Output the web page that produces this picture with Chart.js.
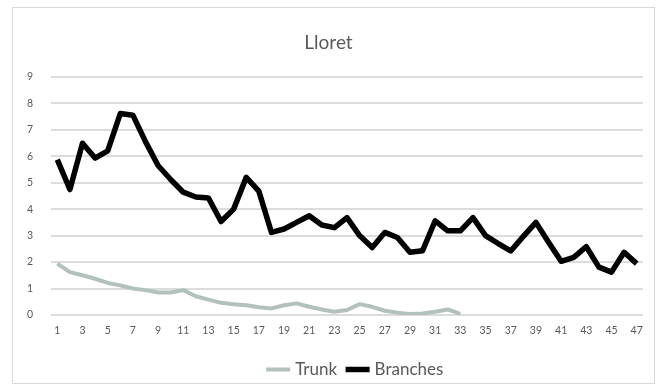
<!DOCTYPE html>
<html>
<head>
<meta charset="utf-8">
<script src="https://cdn.jsdelivr.net/npm/chart.js@4.4.0/dist/chart.umd.min.js"></script>
<style>
    body { margin: 0; background: #ffffff; }
    #frame {
        position: absolute; left: 12px; top: 7px; width: 643px; height: 377px;
        border: 1px solid #d9d9d9; box-sizing: border-box;
    }
    #wrap { position: absolute; left: 0; top: 0; width: 663px; height: 389px; }
</style>
</head>
<body>
<div id="frame"></div>
<div id="wrap"><canvas id="myLineChart" width="663" height="389"></canvas></div>
<script>
const days = ['1', '2', '3', '4', '5', '6', '7', '8', '9', '10', '11', '12', '13', '14', '15', '16',
    '17', '18', '19', '20', '21', '22', '23', '24', '25', '26', '27', '28', '29', '30', '31', '32',
    '33', '34', '35', '36', '37', '38', '39', '40', '41', '42', '43', '44', '45', '46', '47'];

// Trunk only goes up to day 33
const trunk = [1.94, 1.62, 1.5, 1.37, 1.21, 1.12, 1.0, 0.94, 0.85, 0.85, 0.94, 0.71, 0.58, 0.46,
    0.41, 0.37, 0.29, 0.25, 0.37, 0.44, 0.31, 0.21, 0.12, 0.19, 0.41, 0.31, 0.16, 0.09, 0.04,
    0.06, 0.12, 0.21, 0.04];

const branches = [5.87, 4.74, 6.49, 5.93, 6.2, 7.61, 7.55, 6.55, 5.65, 5.12, 4.64, 4.46, 4.42,
    3.53, 4.0, 5.2, 4.68, 3.12, 3.25, 3.5, 3.75, 3.4, 3.3, 3.68, 3.0, 2.55, 3.12, 2.93, 2.37,
    2.43, 3.56, 3.18, 3.18, 3.68, 3.0, 2.7, 2.42, 2.97, 3.5, 2.75, 2.03, 2.18, 2.58, 1.81, 1.62,
    2.37, 1.94];

const yTicks = [0, 1, 2, 3, 4, 5, 6, 7, 8, 9];

const textColor = '#595959';
const fontFamily = 'Lato, "Liberation Sans", sans-serif';

// Excel puts the title and legend a bit right of the canvas centre
const shiftBoxes = {
    id: 'shiftBoxes',
    afterLayout(chart) {
        chart.legend.left += 35;
        chart.legend.right += 35;
        chart.titleBlock.left += 7;
        chart.titleBlock.right += 7;
    }
};

const config = {
    type: 'line',
    data: {
        labels: days,
        datasets: [{
            label: 'Trunk',
            data: trunk,
            borderColor: '#b3c1bb',
            backgroundColor: '#b3c1bb',
            borderWidth: 4,
            pointRadius: 0,
            tension: 0,
            borderJoinStyle: 'round',
            fill: false
        },
        {
            label: 'Branches',
            data: branches,
            borderColor: '#000000',
            backgroundColor: '#000000',
            borderWidth: 5.5,
            pointRadius: 0,
            tension: 0,
            borderJoinStyle: 'round',
            fill: false
        }]
    },
    options: {
        responsive: false,
        animation: false,
        layout: {
            padding: { left: 0, right: 20, top: 0, bottom: 1 }
        },
        plugins: {
            title: {
                display: true,
                text: 'Lloret',
                color: textColor,
                font: { family: fontFamily, size: 19, weight: 'normal' },
                padding: { top: 31, bottom: 23 }
            },
            legend: {
                position: 'bottom',
                labels: {
                    color: textColor,
                    font: { family: fontFamily, size: 17 },
                    usePointStyle: true,
                    pointStyle: 'line',
                    boxWidth: 44,
                    padding: 12
                }
            },
            tooltip: { enabled: false }
        },
        scales: {
            x: {
                offset: true,
                grid: { display: false },
                border: { display: false },
                ticks: {
                    color: textColor,
                    font: { family: fontFamily, size: 10.5 },
                    autoSkip: false,
                    maxRotation: 0,
                    padding: 1,
                    callback: function(value, index) {
                        return index % 2 === 0 ? days[index] : '';
                    }
                },
                afterFit: function(scale) { scale.height = 34; }
            },
            y: {
                min: yTicks[0],
                max: yTicks[yTicks.length - 1],
                grid: { color: '#dcdcdc', lineWidth: 2, drawTicks: false },
                border: { display: false },
                ticks: {
                    stepSize: 1,
                    color: textColor,
                    font: { family: fontFamily, size: 10.5 },
                    padding: 18
                },
                afterFit: function(scale) { scale.width = 51; }
            }
        }
    },
    plugins: [shiftBoxes]
};

const lineChart = new Chart(document.querySelector('#myLineChart'), config);
</script>
</body>
</html>
